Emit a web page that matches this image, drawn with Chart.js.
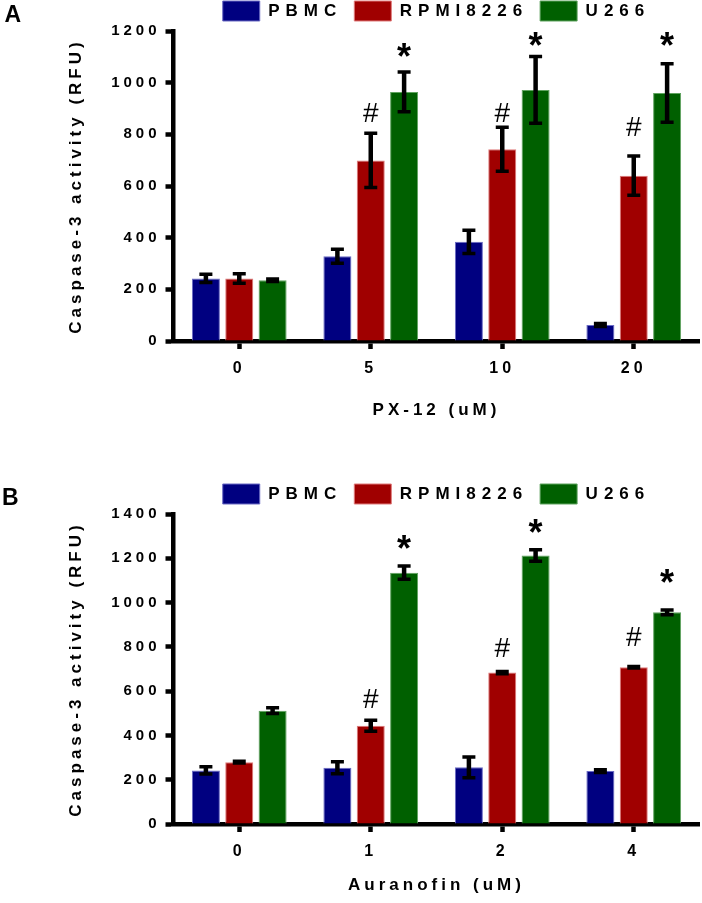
<!DOCTYPE html>
<html>
<head>
<meta charset="utf-8">
<script src="https://cdn.jsdelivr.net/npm/chart.js@4.4.0/dist/chart.umd.min.js"></script>
<style>
  html, body { margin: 0; padding: 0; background: #fff; }
  canvas { display: block; }
</style>
</head>
<body>
<canvas id="chartA" width="702" height="452"></canvas>
<canvas id="chartB" width="702" height="451"></canvas>
<script>
// series shared by both panels
const seriesNames = ['PBMC', 'RPMI8226', 'U266'];

// panel A: PX-12
const pxDoses = ['0', '5', '10', '20'];
const pxPBMC = [242, 328, 384, 62];
const pxPBMCErr = [16, 27, 45, 6];
const pxRPMI = [242, 699, 742, 640];
const pxRPMIErr = [18, 105, 85, 76];
const pxU266 = [235, 964, 972, 960];
const pxU266Err = [5, 77, 129, 113];
const pxHash = [null, 883, 883, 832];    // '#' marks over RPMI8226
const pxStar = [null, 1125, 1168, 1168]; // '*' marks over U266
const pxMax = 1200;

// panel B: Auranofin
const auDoses = ['0', '1', '2', '4'];
const auPBMC = [242, 254, 256, 239];
const auPBMCErr = [16, 27, 47, 6];
const auRPMI = [279, 444, 684, 708];
const auRPMIErr = [4, 25, 5, 3];
const auU266 = [512, 1135, 1213, 956];
const auU266Err = [13, 30, 26, 11];
const auHash = [null, 568, 796, 848];
const auStar = [null, 1275, 1345, 1118];
const auMax = 1400;

const yStep = 200;

const FONT = "'Liberation Sans', Arial, Helvetica, sans-serif";
const fills = ['#000080', '#a00000', '#006000'];
const edges = ['#6a6ac4', '#e07a7a', '#5fa35f'];

// wide letter spacing like the original figure
const spacing = {
  id: 'spacing',
  beforeUpdate(chart) {
    chart.ctx.letterSpacing = '4px';
    const lg = chart.legend;
    if (lg && !lg._spaced) {
      lg._spaced = true;
      const fit = lg.fit, draw = lg.draw;
      lg.fit = function () { this.ctx.letterSpacing = '6px'; fit.apply(this, arguments); this.ctx.letterSpacing = '4px'; };
      lg.draw = function () { this.ctx.letterSpacing = '6px'; draw.apply(this, arguments); this.ctx.letterSpacing = '4px'; };
    }
  },
  beforeDraw(chart) { chart.ctx.letterSpacing = '4px'; }
};

// error bars, significance marks, panel letter
const extras = {
  id: 'extras',
  afterDatasetsDraw(chart) {
    const ctx = chart.ctx, y = chart.scales.y;
    ctx.save();
    ctx.strokeStyle = '#000';
    ctx.fillStyle = '#000';
    chart.data.datasets.forEach((ds, i) => {
      const meta = chart.getDatasetMeta(i);
      meta.data.forEach((bar, j) => {
        const m = ds.data[j], e = ds.errors[j];
        const top = y.getPixelForValue(m + e), bot = y.getPixelForValue(m - e);
        ctx.lineWidth = 4.5;
        ctx.beginPath();
        ctx.moveTo(bar.x, top); ctx.lineTo(bar.x, bot);
        ctx.stroke();
        ctx.lineWidth = 3.5;
        ctx.beginPath();
        ctx.moveTo(bar.x - 6.5, top); ctx.lineTo(bar.x + 6.5, top);
        ctx.moveTo(bar.x - 6.5, bot); ctx.lineTo(bar.x + 6.5, bot);
        ctx.stroke();
      });
      if (!ds.marks) return;
      ctx.letterSpacing = '0px';
      ctx.textAlign = 'center';
      ctx.textBaseline = 'alphabetic';
      ctx.font = ds.markChar === '#' ? '28px ' + FONT : 'bold 36px ' + FONT;
      const mt = ctx.measureText(ds.markChar);
      const shift = (mt.actualBoundingBoxAscent - mt.actualBoundingBoxDescent) / 2;
      ds.marks.forEach((v, j) => {
        if (v == null) return;
        ctx.fillText(ds.markChar, meta.data[j].x, y.getPixelForValue(v) + shift);
      });
    });
    ctx.restore();
  },
  afterDraw(chart, args, opts) {
    const ctx = chart.ctx;
    ctx.save();
    ctx.letterSpacing = '0px';
    ctx.fillStyle = '#000';
    ctx.textAlign = 'left';
    ctx.textBaseline = 'alphabetic';
    ctx.font = 'bold 23px ' + FONT;
    ctx.fillText(opts.letter, opts.lx, opts.ly);
    ctx.restore();
  }
};

function makeChart(id, doses, vals, errs, hash, star, yMax, xTitle, g) {
  const datasets = seriesNames.map((name, i) => ({
    label: name,
    data: vals[i],
    errors: errs[i],
    backgroundColor: fills[i],
    borderColor: edges[i],
    borderWidth: 1,
    categoryPercentage: 0.761,
    barPercentage: 0.84
  }));
  datasets[1].marks = hash; datasets[1].markChar = '#';
  datasets[2].marks = star; datasets[2].markChar = '*';

  return new Chart(document.getElementById(id), {
    type: 'bar',
    data: { labels: doses, datasets },
    plugins: [spacing, extras],
    options: {
      responsive: false,
      animation: false,
      events: [],
      layout: { padding: { top: g.top, left: 0, right: 2.5, bottom: 0 } },
      plugins: {
        tooltip: { enabled: false },
        extras: { letter: g.letter, lx: g.lx, ly: g.ly },
        legend: {
          position: 'top',
          fullSize: false,
          labels: {
            boxWidth: 37, boxHeight: 20, padding: 12, color: '#000',
            font: { family: FONT, size: 17, weight: 'bold' }
          }
        }
      },
      scales: {
        x: {
          grid: { display: true, drawOnChartArea: false, offset: false, tickLength: 8, tickWidth: 4.5, tickColor: '#000' },
          border: { display: true, width: 4.5, color: '#000' },
          ticks: { color: '#000', padding: 10, font: { family: FONT, size: 16, weight: 'bold' } },
          title: { display: true, text: xTitle, color: '#000', padding: { top: 0, bottom: g.tpb },
                   font: { family: FONT, size: 17, weight: 'bold' } },
          afterFit(s) { s.height = g.xh; }
        },
        y: {
          min: 0, max: yMax,
          grid: { display: true, drawOnChartArea: false, tickLength: 8, tickWidth: 4.5, tickColor: '#000' },
          border: { display: true, width: 4.5, color: '#000' },
          ticks: { stepSize: yStep, color: '#000', padding: 5, callback: v => String(v),
                   font: { family: FONT, size: 15, weight: 'bold' } },
          title: { display: true, text: 'Caspase-3 activity (RFU)', color: '#000', padding: { top: 66, bottom: 0 },
                   font: { family: FONT, size: 17, weight: 'bold' } },
          afterFit(s) { s.width = 173.5; }
        }
      }
    }
  });
}

makeChart('chartA', pxDoses, [pxPBMC, pxRPMI, pxU266], [pxPBMCErr, pxRPMIErr, pxU266Err],
  pxHash, pxStar, pxMax, 'PX-12 (uM)',
  { top: -11, xh: 111, tpb: 31.8, letter: 'A', lx: 4.5, ly: 21.7 });

makeChart('chartB', auDoses, [auPBMC, auRPMI, auU266], [auPBMCErr, auRPMIErr, auU266Err],
  auHash, auStar, auMax, 'Auranofin (uM)',
  { top: 20, xh: 79, tpb: 7.3, letter: 'B', lx: 2, ly: 53 });
</script>
</body>
</html>
